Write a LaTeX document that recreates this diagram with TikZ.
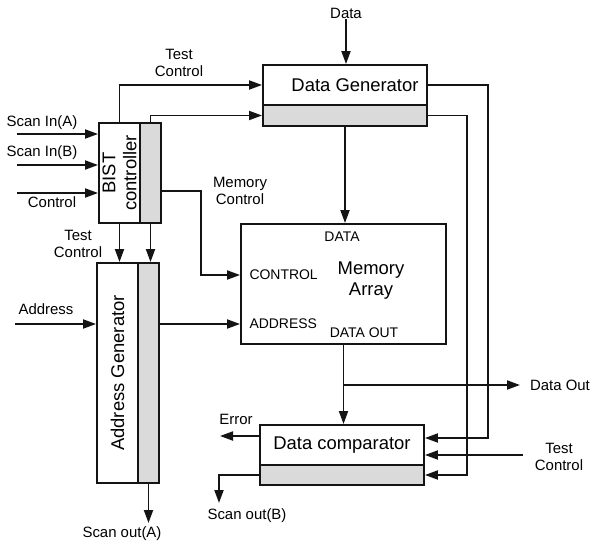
\documentclass[tikz,border=0pt]{standalone}
\usepackage{fontspec}
\setmainfont{Liberation Sans}
\usetikzlibrary{arrows.meta,positioning,calc}
\definecolor{ink}{RGB}{20,20,20}
\definecolor{speck}{RGB}{218,218,218}

\begin{document}
\begin{tikzpicture}[x=1bp,y=-1bp,font=\fontsize{15}{17}\selectfont,
  blk/.style={draw=ink,line width=1.9bp,inner sep=0pt},
  shd/.style={blk,fill=speck},
  big/.style={font=\fontsize{18.5}{21}\selectfont,align=center},
  prt/.style={font=\fontsize{14}{16}\selectfont},
  lbl/.style={align=center,inner sep=1pt},
  a/.style={-{Triangle[length=13bp,width=9bp]},line width=1.9bp,color=ink}]
  \useasboundingbox (0,0) rectangle (591,545);
  \node[blk,big,minimum width=164bp,minimum height=40bp] (dgT) at (345,85) {\hspace*{20bp}Data Generator};
  \node[shd,minimum width=164bp,minimum height=21bp] (dgS) at (345,115.5) {};
  \node[blk,minimum width=41bp,minimum height=100bp] (bistL) at (119.5,173) {};
  \node[big,rotate=90] (bistTxt) at (bistL.center) {BIST\\controller};
  \node[shd,minimum width=21bp,minimum height=100bp] (bistR) at (150.5,173) {};
  \node[blk,minimum width=41bp,minimum height=220bp] (agL) at (117.5,373) {};
  \node[big,rotate=90] (agTxt) at (agL.center) {Address Generator};
  \node[shd,minimum width=21bp,minimum height=220bp] (agR) at (148.5,373) {};
  \node[blk,minimum width=205bp,minimum height=120bp] (mem) at (343.5,284) {};
  \node[big] (memTxt) at (371,281) {Memory\\Array};
  \node[prt] (pData) at (342,237) {DATA};
  \node[prt,anchor=west] (pCtl) at (246,275) {CONTROL};
  \node[prt,anchor=west] (pAddr) at (246,324) {ADDRESS};
  \node[prt] (pOut) at (364,333) {DATA OUT};
  \node[blk,big,minimum width=164bp,minimum height=40bp] (cmpT) at (342,445) {Data comparator};
  \node[shd,minimum width=164bp,minimum height=20bp] (cmpS) at (342,475) {};

  \node[lbl] (dataLbl) at (346,13) {Data};
  \node[lbl] (tcTop) at (179,63) {Test\\Control};
  \node[lbl] (sinALbl) at (42,123) {Scan In(A)};
  \node[lbl] (sinBLbl) at (42,153) {Scan In(B)};
  \node[lbl] (ctlLbl) at (52,202) {Control};
  \node[lbl] (tcLeft) at (78,244) {Test\\Control};
  \node[lbl] (addrLbl) at (46,309) {Address};
  \node[lbl] (soALbl) at (122,534) {Scan out(A)};
  \node[lbl] (mcLbl) at (240,191) {Memory\\Control};
  \node[lbl] (doLbl) at (560,385) {Data Out};
  \node[lbl] (errLbl) at (236,419) {Error};
  \node[lbl] (tcRight) at (559,457) {Test\\Control};
  \node[lbl] (soBLbl) at (247,516) {Scan out(B)};

  \coordinate (inA) at (17,134); \coordinate (inB) at (17,165); \coordinate (inC) at (17,193);
  \coordinate (inAddr) at (15,324); \coordinate (soA) at (148.5,523); \coordinate (soB) at (219,503);
  \coordinate (errEnd) at (220,436); \coordinate (doEnd) at (520,385); \coordinate (tcEnd) at (523,455);
  \coordinate (r1) at (488,0); \coordinate (r2) at (467,0); \coordinate (mcX) at (201,0);
  \coordinate (br) at (343.5,385); \coordinate (pIn1) at ([yshift=7bp]cmpT.east);

  \draw[a] (inA) -- (inA -| bistL.west); \draw[a] (inB) -- (inB -| bistL.west); \draw[a] (inC) -- (inC -| bistL.west);
  \draw[a] (bistL.north) |- (dgT.west); \draw[a] (bistR.north) |- (dgS.west);
  \draw[a] ([yshift=-18bp]bistR.east) -| (mcX |- pCtl.west) -- (pCtl.west -| mem.west);
  \draw[a] (bistL.south) -- (bistL.south |- agL.north); \draw[a] (bistR.south) -- (bistR.south |- agR.north);
  \draw[a] (inAddr) -- (inAddr -| agL.west);
  \draw[a] (pAddr.west -| agR.east) -- (pAddr.west -| mem.west);
  \draw[a] (agR.south) -- (soA);
  \draw[a] (dataLbl.south) -- (dataLbl.south |- dgT.north);
  \draw[a] (dgS.south) -- (dgS.south |- mem.north);
  \draw[a] (dgT.east) -| (r1 |- pIn1) -- (pIn1);
  \draw[a] (dgS.east) -| (r2 |- cmpS.east) -- (cmpS.east);
  \draw[a] (tcEnd) -- (tcEnd -| cmpT.east);
  \draw[a] (mem.south) -- (mem.south |- cmpT.north);
  \draw[a] (br) -- (doEnd);
  \draw[a] (errEnd -| cmpT.west) -- (errEnd);
  \draw[a] (cmpS.west) -| (soB);
\end{tikzpicture}
\end{document}
